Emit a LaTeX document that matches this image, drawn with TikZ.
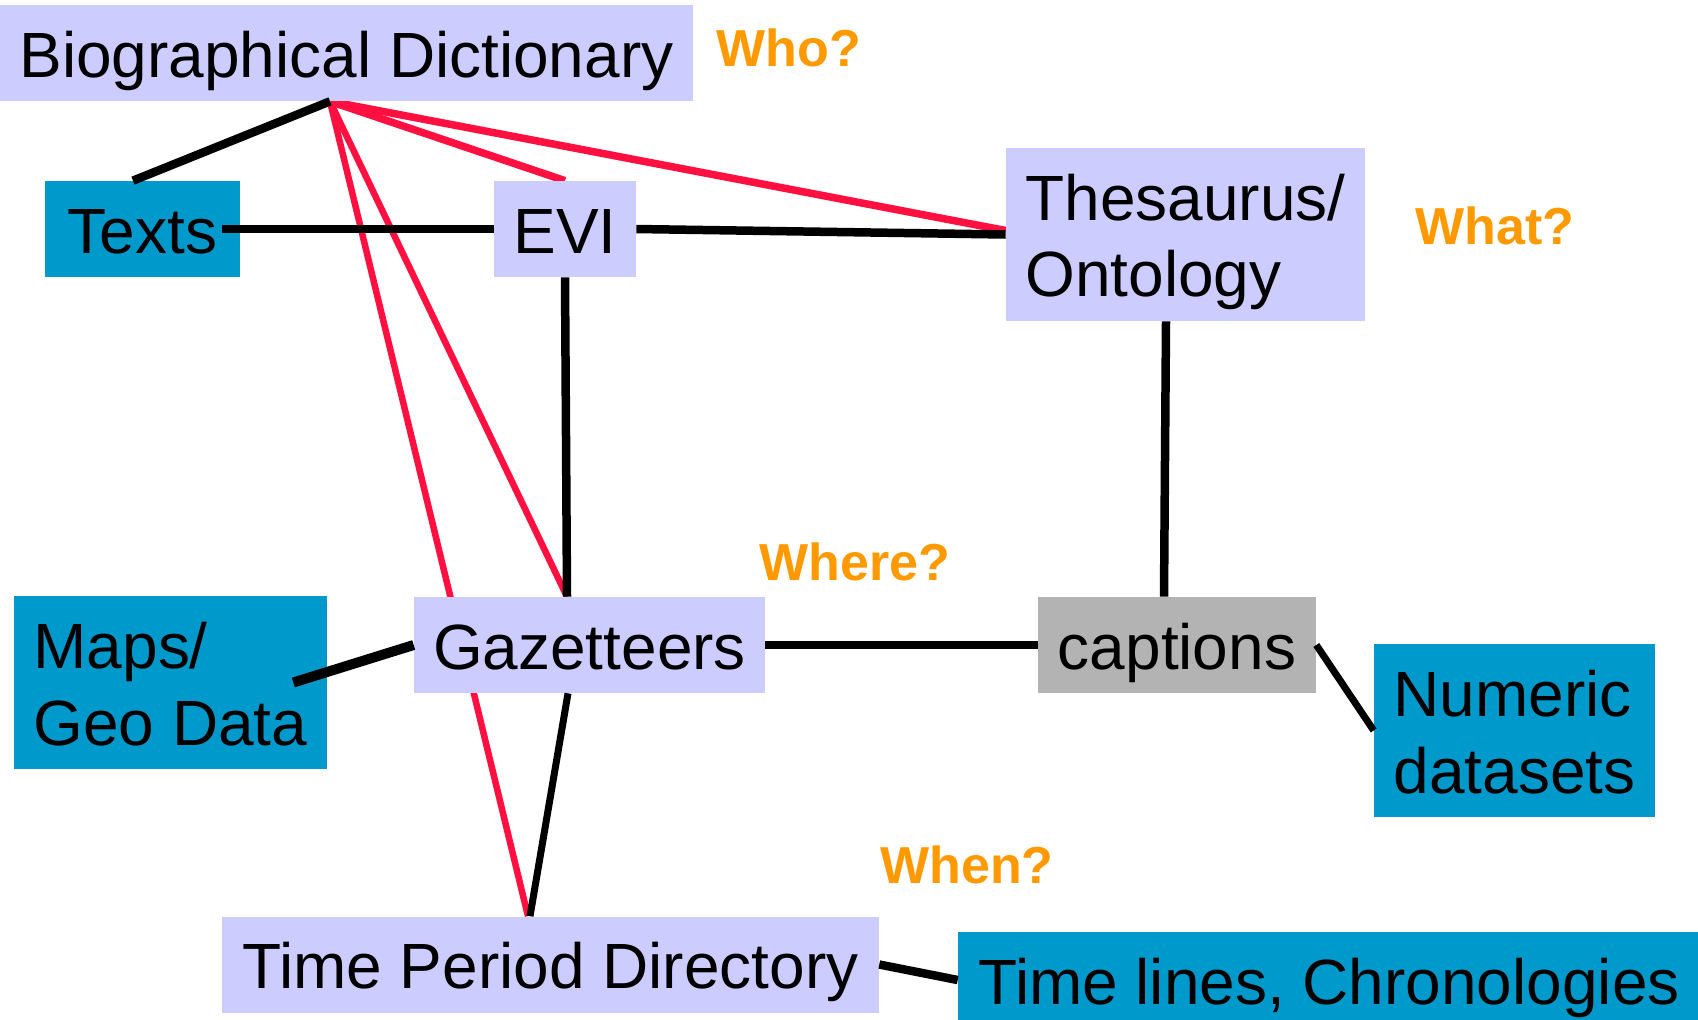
\documentclass[tikz,border=0pt]{standalone}
\usepackage{fontspec}
\setmainfont{Liberation Sans}
\usetikzlibrary{backgrounds}
\definecolor{lav}{RGB}{204,204,255}
\definecolor{sea}{RGB}{0,153,204}
\definecolor{ash}{RGB}{179,179,179}
\definecolor{rose}{RGB}{255,16,64}
\definecolor{amber}{RGB}{255,153,0}
\tikzset{
	box/.style={rectangle,inner sep=0pt,minimum height=1.92cm,text height=1.3cm,text depth=0.34cm,font=\fontsize{36.4}{43.8}\selectfont},
	twobox/.style={box,minimum height=3.46cm,text height=2.84cm,align=left},
	ask/.style={inner sep=0pt,text=amber,font=\fontsize{29.6}{35}\selectfont\bfseries},
	link/.style={line width=0.17cm},
	cross/.style={draw=rose,line width=0.13cm}
}

\begin{document}
\begin{tikzpicture}[x=0.02cm,y=-0.02cm]
		\useasboundingbox (0,0) rectangle (1698,1019);
		\clip (0,0) rectangle (1698,1019);
		\begin{scope}
			\node(bio) [box,fill=lav,minimum width=13.86cm] at (346.5,53) {Biographical Dictionary};
			\node(texts) [box,fill=sea,minimum width=3.9cm] at (142.5,229) {Texts};
			\node(evi) [box,fill=lav,minimum width=2.84cm] at (565,229) {EVI};
			\node(thes) [twobox,fill=lav,minimum width=7.18cm] at (1185.5,234.5) {Thesaurus/\\Ontology};
			\node(maps) [twobox,fill=sea,minimum width=6.26cm] at (170.5,682.5) {Maps/\\Geo Data};
			\node(gaz) [box,fill=lav,minimum width=7.02cm] at (589.5,645) {Gazetteers};
			\node(capt) [box,fill=ash,minimum width=5.56cm] at (1177,645) {captions};
			\node(num) [twobox,fill=sea,minimum width=5.62cm] at (1514.5,730.5) {Numeric\\datasets};
			\node(tpd) [box,fill=lav,minimum width=13.14cm] at (550.5,964.5) {Time Period Directory};
			\node(tl) [box,fill=sea,minimum width=14.84cm] at (1329,980) {Time lines, Chronologies};
			\node(who) [ask] at (789,48) {Who?};
			\node(what) [ask] at (1495,226) {What?};
			\node(where) [ask] at (855,562) {Where?};
			\node(when) [ask] at (967,865) {When?};
			% red links go behind the boxes
			\begin{scope}[on background layer]
				\path[cross]
					([xshift=-0.33cm]bio.south) edge[line width=0.15cm] (evi.north)
					([xshift=-0.33cm]bio.south) edge[line width=0.15cm] ([yshift=0.08cm]thes.west)
					([xshift=-0.33cm]bio.south) edge ([xshift=-0.45cm]gaz.north)
					([xshift=-0.33cm]bio.south) edge ([xshift=-0.45cm]tpd.north);
			\end{scope}
			\path[link]
				([xshift=-0.33cm]bio.south) edge ([xshift=-0.19cm]texts.north)
				([xshift=-0.36cm]texts.east) edge (evi.west)
				(evi.east) edge (thes.west)
				(evi.south) edge ([xshift=-0.45cm]gaz.north)
				([xshift=-0.39cm]thes.south) edge ([xshift=-0.26cm]capt.north)
				([xshift=-0.68cm]maps.east) edge[line width=0.2cm] (gaz.west)
				(gaz.east) edge (capt.west)
				([xshift=-0.43cm]gaz.south) edge[line width=0.14cm] ([xshift=-0.41cm]tpd.north)
				(capt.east) edge[line width=0.14cm] (num.west)
				(tpd.east) edge (tl.west);
		\end{scope}
	\end{tikzpicture}
\end{document}
